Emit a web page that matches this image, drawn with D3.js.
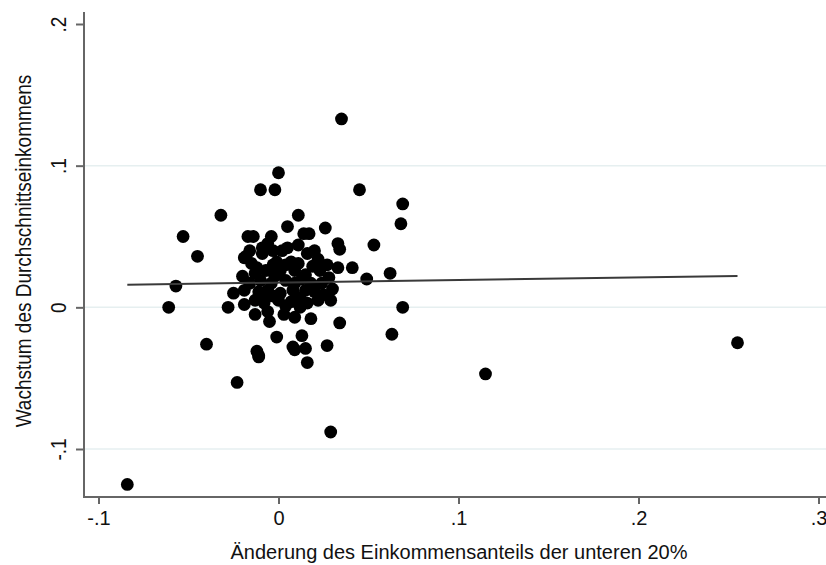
<!DOCTYPE html>
<html><head><meta charset="utf-8">
<script src="https://cdn.jsdelivr.net/npm/d3@7"></script>
<style>
html,body{margin:0;padding:0;background:#fff;}
svg{display:block;font-family:"Liberation Sans",Arial,sans-serif;}
</style></head>
<body>
<svg id="chart" width="826" height="565"></svg>
<script>
// Data: change in bottom-20% income share (x) vs. growth of average income (y)
const xValues = [
 -0.084, 0.255, 0.115, 0.029, 0.035, -0.023, -0.040, -0.061, -0.057, -0.045,
 -0.053, -0.032, 0.000, -0.010, -0.002, 0.045, 0.069, 0.068, 0.041, 0.053,
 0.049, 0.062, 0.069, 0.063, 0.034, 0.027, 0.016, 0.015, -0.011, -0.012,
 0.009, 0.013, -0.028,
 -0.017, -0.014, -0.004, 0.011, 0.005, 0.014, 0.017, 0.026, 0.005, 0.033,
 0.034, -0.018, -0.016, -0.009, -0.003, 0.011,
 -0.019, -0.015, -0.009, -0.003, -0.001, 0.007, 0.011, 0.019, 0.023,
 -0.013, -0.007, 0.001, 0.009, 0.015, 0.033, 0.028,
 -0.016, -0.010, -0.004, 0.004, 0.009, 0.018,
 -0.025, -0.019, -0.011, -0.006, 0.001, 0.008, 0.015, 0.020,
 -0.013, -0.007, 0.000, 0.007, 0.012, 0.022, 0.029,
 -0.019, -0.006, 0.003, 0.009, 0.018, -0.013, -0.005,
 -0.001, 0.008, -0.011,
 -0.006, 0.002, 0.016, 0.022, 0.027, -0.012, 0.004, 0.013, 0.024, -0.002,
 -0.008, 0.004, 0.016, -0.003, 0.012, 0.030, 0.025, -0.020, 0.020
];
const yValues = [
 -0.125, -0.025, -0.047, -0.088, 0.133, -0.053, -0.026, 0.000, 0.015, 0.036,
 0.050, 0.065, 0.095, 0.083, 0.083, 0.083, 0.073, 0.059, 0.028, 0.044,
 0.020, 0.024, 0.000, -0.019, -0.011, -0.027, -0.039, -0.029, -0.034, -0.031,
 -0.030, -0.020, 0.000,
 0.050, 0.050, 0.050, 0.065, 0.057, 0.052, 0.052, 0.056, 0.042, 0.045,
 0.041, 0.036, 0.040, 0.042, 0.040, 0.044,
 0.035, 0.031, 0.038, 0.030, 0.032, 0.032, 0.031, 0.029, 0.026,
 0.024, 0.026, 0.026, 0.026, 0.023, 0.028, 0.021,
 0.017, 0.019, 0.017, 0.019, 0.017, 0.017,
 0.010, 0.012, 0.011, 0.012, 0.010, 0.012, 0.012, 0.011,
 0.005, 0.007, 0.005, 0.004, 0.000, 0.005, 0.005,
 0.002, -0.003, -0.005, -0.007, -0.008, -0.005, -0.010,
 -0.021, -0.028, -0.035,
 0.045, 0.040, 0.038, 0.034, 0.030, 0.028, 0.030, 0.020, 0.017, 0.022,
 0.003, 0.001, 0.003, 0.008, 0.007, 0.013, 0.009, 0.022, 0.040
];
// Fitted line
const fitIntercept = 0.0175;
const fitSlope = 0.018;

const xTicks = [-0.1, 0, 0.1, 0.2, 0.3];
const xTickLabels = ["-.1", "0", ".1", ".2", ".3"];
const yTicks = [-0.1, 0, 0.1, 0.2];
const yTickLabels = ["-.1", "0", ".1", ".2"];
const gridValues = [-0.1, 0, 0.1];
const xTitle = "Änderung des Einkommensanteils der unteren 20%";
const yTitle = "Wachstum des Durchschnittseinkommens";

const points = xValues.map((x, i) => ({x: x, y: yValues[i]}));

const svg = d3.select("#chart");
const plotLeft = 84, plotRight = 840, plotTop = 12, plotBottom = 497;

const x = d3.scaleLinear().domain([-0.1, 0.3]).range([98.5, 818.5]);
const y = d3.scaleLinear().domain([-0.1, 0.2]).range([449, 24]);

// gridlines
svg.append("g").selectAll("line").data(gridValues).join("line")
  .attr("x1", plotLeft).attr("x2", plotRight)
  .attr("y1", d => y(d)).attr("y2", d => y(d))
  .attr("stroke", "#e6eff0").attr("stroke-width", 1.5);

// points
svg.append("g").selectAll("circle").data(points).join("circle")
  .attr("cx", d => x(d.x)).attr("cy", d => y(d.y)).attr("r", 6.4)
  .attr("fill", "#000");

// fitted line
const xExt = d3.extent(xValues);
svg.append("line")
  .attr("x1", x(xExt[0])).attr("y1", y(fitIntercept + fitSlope * xExt[0]))
  .attr("x2", x(xExt[1])).attr("y2", y(fitIntercept + fitSlope * xExt[1]))
  .attr("stroke", "#3a3a3a").attr("stroke-width", 2);

// axes
const axisColor = "#666";
const xAxis = svg.append("g").attr("transform", `translate(0,${plotBottom})`)
  .call(d3.axisBottom(x).tickValues(xTicks).tickFormat((d, i) => xTickLabels[i]).tickSize(7).tickPadding(7));
xAxis.select(".domain").remove();
xAxis.selectAll(".tick line").attr("stroke", axisColor).attr("stroke-width", 2);
xAxis.selectAll(".tick text").attr("font-size", 20).attr("fill", "#111")
  .attr("font-family", "Liberation Sans, Arial, sans-serif");

const yAxis = svg.append("g").attr("transform", `translate(${plotLeft},0)`)
  .call(d3.axisLeft(y).tickValues(yTicks).tickFormat((d, i) => yTickLabels[i]).tickSize(8));
yAxis.select(".domain").remove();
yAxis.selectAll(".tick line").attr("stroke", axisColor).attr("stroke-width", 2);
yAxis.selectAll(".tick text")
  .attr("x", null).attr("dy", null)
  .attr("text-anchor", "middle")
  .attr("font-size", 19).attr("fill", "#111")
  .attr("font-family", "Liberation Sans, Arial, sans-serif")
  .attr("transform", "translate(-18,0) rotate(-90) scale(1,1.2)");

svg.append("line").attr("x1", plotLeft).attr("x2", plotLeft)
  .attr("y1", plotTop).attr("y2", plotBottom)
  .attr("stroke", axisColor).attr("stroke-width", 2);
svg.append("line").attr("x1", plotLeft - 1).attr("x2", plotRight)
  .attr("y1", plotBottom).attr("y2", plotBottom)
  .attr("stroke", axisColor).attr("stroke-width", 2);

// titles
svg.append("text").attr("x", 459).attr("y", 559)
  .attr("text-anchor", "middle").attr("font-size", 20).attr("fill", "#111")
  .text(xTitle);
svg.append("text")
  .attr("transform", "translate(31,251) rotate(-90) scale(1,1.2)")
  .attr("text-anchor", "middle").attr("font-size", 19).attr("fill", "#111")
  .text(yTitle);
</script>
</body></html>
